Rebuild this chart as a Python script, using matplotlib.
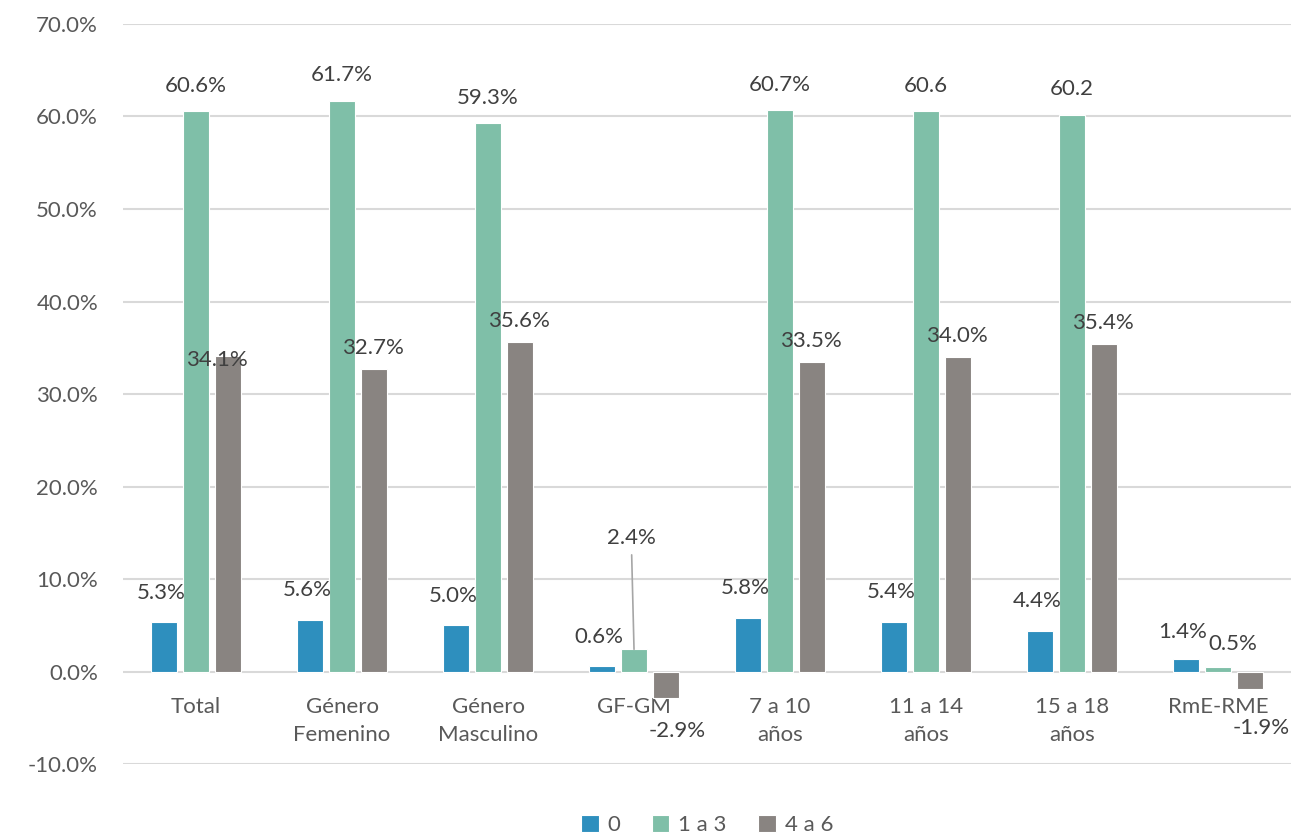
import matplotlib.pyplot as plt
import matplotlib.transforms as mtrans
import numpy as np

# Data
categorias = ["Total", "Género\nFemenino", "Género\nMasculino", "GF-GM",
              "7 a 10\naños", "11 a 14\naños", "15 a 18\naños", "RmE-RME"]
serie_0 = [5.3, 5.6, 5.0, 0.6, 5.8, 5.4, 4.4, 1.4]
serie_1a3 = [60.6, 61.7, 59.3, 2.4, 60.7, 60.6, 60.2, 0.5]
serie_4a6 = [34.1, 32.7, 35.6, -2.9, 33.5, 34.0, 35.4, -1.9]
etiquetas_1a3 = ["60.6%", "61.7%", "59.3%", "2.4%", "60.7%", "60.6", "60.2", "0.5%"]
series = ["0", "1 a 3", "4 a 6"]

colores = ["#2E8FBE", "#7FBFA8", "#898481"]
txt = "#404040"

plt.rcParams['font.family'] = ['Lato', 'DejaVu Sans']

fig = plt.figure(figsize=(13.16, 8.36), dpi=100)
ax = fig.add_axes([0.0935, 0.0861, 0.8875, 0.8852])

x = np.arange(len(categorias))
w = 0.18
step = 0.22
for i, (vals, c) in enumerate(zip([serie_0, serie_1a3, serie_4a6], colores)):
    ax.bar(x + (i - 1) * step, vals, w, color=c, edgecolor="white", linewidth=0.8,
           label=series[i], zorder=1)

# data labels (offsets in points, moved by hand like in the original)
fs = 16
for j in range(len(categorias)):
    # serie 0
    dy = 12 if j == 7 else 14
    ax.annotate(f"{serie_0[j]:.1f}%", (x[j] - step, serie_0[j]), xytext=(-2, dy),
                textcoords="offset points", ha="center", va="bottom", fontsize=fs, color=txt)
    # serie 1 a 3
    if j == 3:
        ax.annotate(etiquetas_1a3[j], (x[j], serie_1a3[j]), xytext=(-2, 73),
                    textcoords="offset points", ha="center", va="bottom", fontsize=fs,
                    color=txt, arrowprops=dict(arrowstyle="-", color="#A6A6A6", lw=1.2,
                                               shrinkA=3, shrinkB=0))
    elif j == 7:
        ax.annotate(etiquetas_1a3[j], (x[j], serie_1a3[j]), xytext=(11, 9),
                    textcoords="offset points", ha="center", va="bottom", fontsize=fs, color=txt)
    else:
        ax.annotate(etiquetas_1a3[j], (x[j], serie_1a3[j]), xytext=(0, 11),
                    textcoords="offset points", ha="center", va="bottom", fontsize=fs, color=txt)
    # serie 4 a 6
    v = serie_4a6[j]
    if v < 0:
        dyn = -21 if j == 7 else -16
        ax.annotate(f"{v:.1f}%", (x[j] + step, v), xytext=(8, dyn),
                    textcoords="offset points", ha="center", va="top", fontsize=fs, color=txt)
    elif j == 0:
        ax.annotate(f"{v:.1f}%", (x[j] + step, v), xytext=(-8, -10),
                    textcoords="offset points", ha="center", va="bottom", fontsize=fs, color=txt)
    else:
        ax.annotate(f"{v:.1f}%", (x[j] + step, v), xytext=(-1, 8),
                    textcoords="offset points", ha="center", va="bottom", fontsize=fs, color=txt)

ax.set_xlim(-0.5, len(categorias) - 0.5)
ax.set_ylim(-10, 70)
ax.set_yticks(np.arange(-10, 71, 10))
ax.set_yticklabels([f"{t:.1f}%" for t in np.arange(-10, 71, 10)])
ax.set_xticks(x)
ax.set_xticklabels(categorias, linespacing=1.5)
ax.tick_params(length=0, labelsize=16, colors="#595959")
ax.tick_params(axis="y", pad=18)
ax.grid(axis="y", color="#D9D9D9", linewidth=1.5, zorder=0)
ax.set_axisbelow(True)
for s in ax.spines.values():
    s.set_visible(False)

# category labels hang just below the zero line
for lbl in ax.get_xticklabels():
    lbl.set_y(0)
    lbl.set_transform(mtrans.blended_transform_factory(ax.transData, ax.transData)
                      + mtrans.ScaledTranslation(0, -18 / 72, fig.dpi_scale_trans))
    lbl.set_verticalalignment("top")
    lbl.set_zorder(5)

ax.legend(loc="upper center", bbox_to_anchor=(0.5, -0.042), ncol=3, frameon=False,
          fontsize=16, handlelength=0.8, handleheight=0.8, handletextpad=0.4,
          columnspacing=1.4, labelcolor="#595959")

fig.savefig("out.png", dpi=100)
